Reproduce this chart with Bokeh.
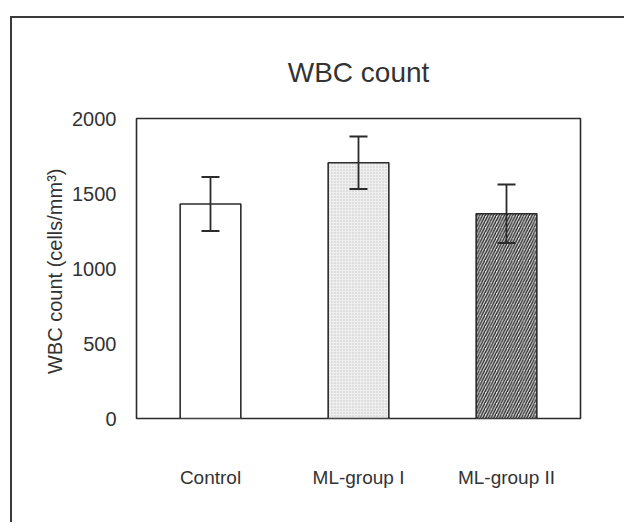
from bokeh.plotting import figure
from bokeh.models import ColumnDataSource, Whisker, TeeHead, FixedTicker, Range1d, FactorRange
from bokeh.embed import file_html
from bokeh.resources import INLINE

# WBC counts per group (mean and SD, cells/mm^3)
groups = ["Control", "ML-group I", "ML-group II"]
wbc_mean = [1430, 1705, 1365]
wbc_sd = [180, 175, 195]
y_ticks = [0, 500, 1000, 1500, 2000]

# bar fills: plain, light stipple, dark diagonal hatch
fills = ["#ffffff", "#efefef", "#e4e4e4"]
hatches = [" ", ".", "/"]
hatch_colors = ["#ffffff", "#c4c4c4", "#2a2a2a"]
hatch_scales = [4, 3, 5.5]

FONT = "Liberation Sans"
INK = "#2b2b2b"
TEXT = "#333333"

source = ColumnDataSource(dict(
    group=groups,
    mean=wbc_mean,
    upper=[m + s for m, s in zip(wbc_mean, wbc_sd)],
    lower=[m - s for m, s in zip(wbc_mean, wbc_sd)],
    fill=fills,
    hatch=hatches,
    hcolor=hatch_colors,
    hscale=hatch_scales,
))

p = figure(
    x_range=FactorRange(*groups, range_padding=0),
    y_range=Range1d(0, 2000),
    width=614, height=506,
    min_border_left=124, min_border_right=46,
    min_border_top=100, min_border_bottom=106,
    title="WBC count",
    output_backend="svg", toolbar_location=None,
)
p.styles = {
    "margin-left": "10px", "margin-top": "16px",
    "border-left": "2px solid #3a3a3a", "border-top": "2px solid #3a3a3a",
}

p.vbar(x="group", top="mean", width=0.41, source=source,
       fill_color="fill", line_color=INK, line_width=1.6,
       hatch_pattern="hatch", hatch_color="hcolor", hatch_scale="hscale",
       hatch_weight=1.4)

# SD error bars drawn over the bars
err = Whisker(base="group", upper="upper", lower="lower", source=source,
              level="overlay", line_color=INK, line_width=1.8,
              upper_head=TeeHead(size=18, line_color=INK, line_width=1.8),
              lower_head=TeeHead(size=18, line_color=INK, line_width=1.8))
p.add_layout(err)

p.title.text_font = FONT
p.title.text_font_size = "28px"
p.title.text_font_style = "normal"
p.title.text_color = TEXT
p.title.align = "center"
p.title.standoff = 62

p.grid.visible = False
p.outline_line_color = INK
p.outline_line_width = 1.6
p.background_fill_color = None
p.border_fill_color = "#ffffff"

for ax in (p.xaxis[0], p.yaxis[0]):
    ax.axis_line_color = None
    ax.major_tick_line_color = None
    ax.minor_tick_line_color = None
    ax.major_tick_out = 0
    ax.major_label_text_font = FONT
    ax.major_label_text_color = TEXT

p.yaxis.major_label_text_font_size = "20px"
p.xaxis.major_label_text_font_size = "19px"

p.yaxis.ticker = FixedTicker(ticks=y_ticks)
p.yaxis.major_label_standoff = 20
p.yaxis.axis_label = "WBC count  (cells/mm\u00b3)"
p.yaxis.axis_label_text_font = FONT
p.yaxis.axis_label_text_font_size = "20px"
p.yaxis.axis_label_text_font_style = "normal"
p.yaxis.axis_label_text_color = TEXT
p.yaxis.axis_label_standoff = 3

p.xaxis.major_label_standoff = 48

open("out.html", "w").write(file_html(p, INLINE))
